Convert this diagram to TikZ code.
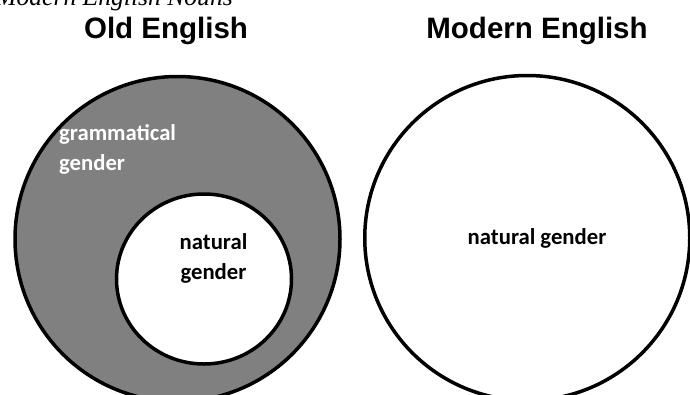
\documentclass[tikz,border=0pt]{standalone}
\usepackage{fontspec}
\setmainfont{Liberation Serif}
\newfontfamily\arialfont{Liberation Sans}
\newfontfamily\calfont{Carlito}
\begin{document}
\begin{tikzpicture}[x=1pt,y=-1pt,
  ring/.style={draw=black,line width=3.5pt},
  titletext/.style={font=\arialfont\bfseries\fontsize{29.5}{36}\selectfont,inner sep=0pt,anchor=base},
  labeltext/.style={font=\calfont\bfseries\fontsize{22.7}{30}\selectfont,inner sep=0pt}]
\useasboundingbox (0,0) rectangle (690,394);
\fill[white] (0,0) rectangle (690,394);
% cut-off caption at top
\node[font=\itshape\fontsize{25.6}{30}\selectfont,inner sep=0pt,anchor=base east] (cap) at (233,5) {Modern English Nouns};
% titles
\node[titletext] (oldt) at (166,38) {Old English};
\node[titletext] (modt) at (537,38) {Modern English};
% Old English circles
\draw[ring,fill={rgb,255:red,128;green,128;blue,128}] (177.5,239) circle[radius=162.5];
\draw[ring,fill=white] (204,279) ellipse[x radius=87.5,y radius=85];
\node[labeltext,text=white,align=left,anchor=base west] (gram) at (59,170) {grammatical\\gender};
\node[labeltext,align=center,anchor=base] (nat1) at (213.5,279) {natural\\gender};
% Modern English circle
\draw[ring,fill=white] (527.25,238) circle[radius=162.5];
\node[labeltext,anchor=base] (nat2) at (537,244) {natural gender};
\end{tikzpicture}
\end{document}
